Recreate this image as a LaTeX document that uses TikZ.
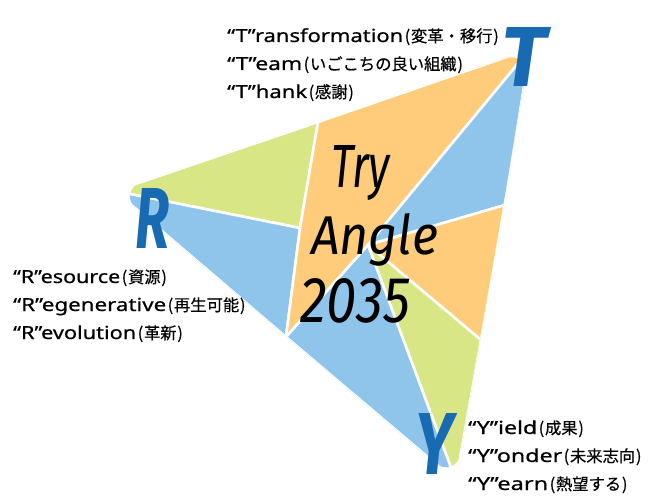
\documentclass[tikz,border=0pt]{standalone}
\usepackage{fontspec}
\usepackage{graphicx}
\setmainfont{Noto Sans}
\newfontfamily\labfont{Noto Sans}[FakeBold=0.6]
\newfontfamily\jpfont{Noto Sans CJK JP}[FakeBold=0.4]
\newfontfamily\firafont{Fira Sans}
\definecolor{blueF}{RGB}{143,196,235}
\definecolor{orangeF}{RGB}{254,204,122}
\definecolor{greenF}{RGB}{216,230,133}
\definecolor{letterblue}{RGB}{24,106,178}
\newcommand\latw[2]{\resizebox{#1}{\height}{#2}}
\newcommand\jpp[1]{\kern1.5pt{\jpfont\fontsize{16.3}{17}\selectfont(\kern0.8pt#1\kern0.8pt)}}
\begin{document}
\begin{tikzpicture}[x=1pt,y=-1pt,
  region/.style={draw=white, line width=2.6pt, line join=round},
  lab/.style={anchor=base west, inner sep=0pt, font=\labfont\fontsize{18}{20}\selectfont},
  big/.style={anchor=base west, inner sep=0pt, font=\firafont\itshape\fontsize{60}{60}\selectfont, text=black},
  bigletter/.style={anchor=base west, inner sep=0pt, font=\firafont\bfseries\itshape\fontsize{80}{80}\selectfont, text=letterblue}]
\useasboundingbox (0,0) rectangle (650,500);
\coordinate (T) at (530,49);
\coordinate (Y) at (456,481);
\coordinate (R) at (115,191);
\coordinate (A) at (318,122);
\coordinate (B) at (300,228);
\coordinate (C) at (286,337);
\coordinate (O) at (368,245);
\coordinate (D) at (505,205);
\coordinate (E) at (481,340);
\begin{scope}
  \clip[rounded corners=30pt] (T) -- (Y) -- (R) -- cycle;
  \filldraw[region, fill=greenF] (R) -- (A) -- (B) -- cycle;
  \filldraw[region, fill=blueF] (R) -- (B) -- (C) -- cycle;
  \filldraw[region, fill=orangeF] (A) -- (T) -- (O) -- (C) -- (B) -- cycle;
  \filldraw[region, fill=blueF] (T) -- (D) -- (O) -- cycle;
  \filldraw[region, fill=orangeF] (O) -- (D) -- (E) -- cycle;
  \filldraw[region, fill=greenF] (O) -- (E) -- (Y) -- cycle;
  \filldraw[region, fill=blueF] (O) -- (Y) -- (C) -- cycle;
\end{scope}
\node[big] (try) at (331,187) {\resizebox{59pt}{42pt}{Try}};
\node[big] (angle) at (311,254) {\resizebox{127pt}{41pt}{Angle}};
\node[big] (year) at (300,322) {\resizebox{110pt}{44pt}{2035}};
\node[bigletter] (lt) at (501,87) {\resizebox{45pt}{59pt}{T}};
\node[bigletter] (lr) at (135,248) {\resizebox{34pt}{60pt}{R}};
\node[bigletter] (ly) at (415,474) {\resizebox{38pt}{61pt}{Y}};
\node[lab] (t1) at (227,42) {\latw{176pt}{“T”ransformation}\jpp{変革・移行}};
\node[lab] (t2) at (227,70) {\latw{75pt}{“T”eam}\jpp{いごこちの良い組織}};
\node[lab] (t3) at (227,98) {\latw{80pt}{“T”hank}\jpp{感謝}};
\node[lab] (r1) at (13,283) {\latw{107pt}{“R”esource}\jpp{資源}};
\node[lab] (r2) at (13,311) {\latw{153pt}{“R”egenerative}\jpp{再生可能}};
\node[lab] (r3) at (13,339) {\latw{123pt}{“R”evolution}\jpp{革新}};
\node[lab] (y1) at (468,434) {\latw{69pt}{“Y”ield}\jpp{成果}};
\node[lab] (y2) at (468,462) {\latw{94pt}{“Y”onder}\jpp{未来志向}};
\node[lab] (y3) at (468,490) {\latw{80pt}{“Y”earn}\jpp{熱望する}};
\end{tikzpicture}
\end{document}
